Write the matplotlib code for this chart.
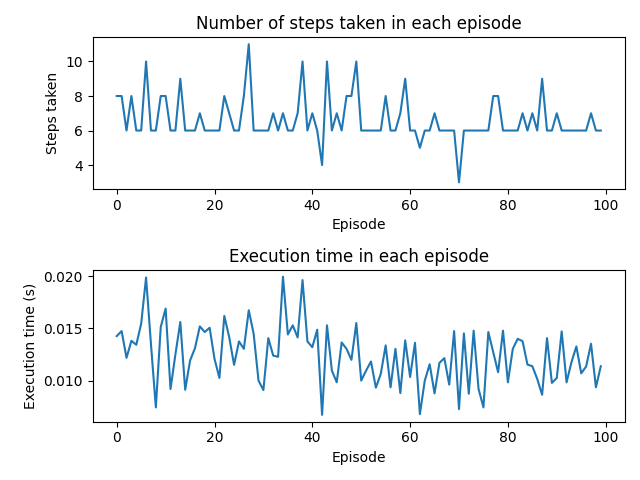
import matplotlib
matplotlib.use("Agg")
from matplotlib import pyplot as plt
import numpy as np

# steps taken per episode
steps = [8, 8, 6, 8, 6, 6, 10, 6, 6, 8,
         8, 6, 6, 9, 6, 6, 6, 7, 6, 6,
         6, 6, 8, 7, 6, 6, 8, 11, 6, 6,
         6, 6, 7, 6, 7, 6, 6, 7, 10, 6,
         7, 6, 4, 10, 6, 7, 6, 8, 8, 10,
         6, 6, 6, 6, 6, 8, 6, 6, 7, 9,
         6, 6, 5, 6, 6, 7, 6, 6, 6, 6,
         3, 6, 6, 6, 6, 6, 6, 8, 8, 6,
         6, 6, 6, 7, 6, 7, 6, 9, 6, 6,
         7, 6, 6, 6, 6, 6, 6, 7, 6, 6]

# execution time per episode in seconds
exec_times = [0.01426, 0.01474, 0.01218, 0.01381, 0.01343, 0.01545, 0.01987, 0.01350, 0.00744, 0.01513,
              0.01689, 0.00920, 0.01250, 0.01561, 0.00913, 0.01192, 0.01311, 0.01519, 0.01465, 0.01506,
              0.01208, 0.01026, 0.01619, 0.01417, 0.01151, 0.01375, 0.01304, 0.01673, 0.01449, 0.01000,
              0.00910, 0.01407, 0.01240, 0.01228, 0.01994, 0.01442, 0.01529, 0.01413, 0.01962, 0.01375,
              0.01320, 0.01487, 0.00673, 0.01529, 0.01096, 0.00984, 0.01365, 0.01304, 0.01199, 0.01551,
              0.01000, 0.01096, 0.01183, 0.00933, 0.01064, 0.01337, 0.00936, 0.01304, 0.00881, 0.01385,
              0.01035, 0.01362, 0.00680, 0.01000, 0.01157, 0.00878, 0.01170, 0.01215, 0.00962, 0.01474,
              0.00728, 0.01452, 0.00875, 0.01478, 0.00920, 0.00744, 0.01465, 0.01272, 0.01080, 0.01478,
              0.00984, 0.01304, 0.01400, 0.01378, 0.01154, 0.01138, 0.01016, 0.00865, 0.01407, 0.00978,
              0.01026, 0.01471, 0.00984, 0.01176, 0.01327, 0.01070, 0.01135, 0.01353, 0.00936, 0.01138]

episodes = np.arange(len(steps))

fig, (ax1, ax2) = plt.subplots(2, 1, figsize=(6.4, 4.8), dpi=100)

ax1.plot(episodes, steps)
ax1.set_title("Number of steps taken in each episode")
ax1.set_xlabel("Episode")
ax1.set_ylabel("Steps taken")

ax2.plot(episodes, exec_times)
ax2.set_title("Execution time in each episode")
ax2.set_xlabel("Episode")
ax2.set_ylabel("Execution time (s)")

plt.tight_layout()
plt.savefig("out.png")
